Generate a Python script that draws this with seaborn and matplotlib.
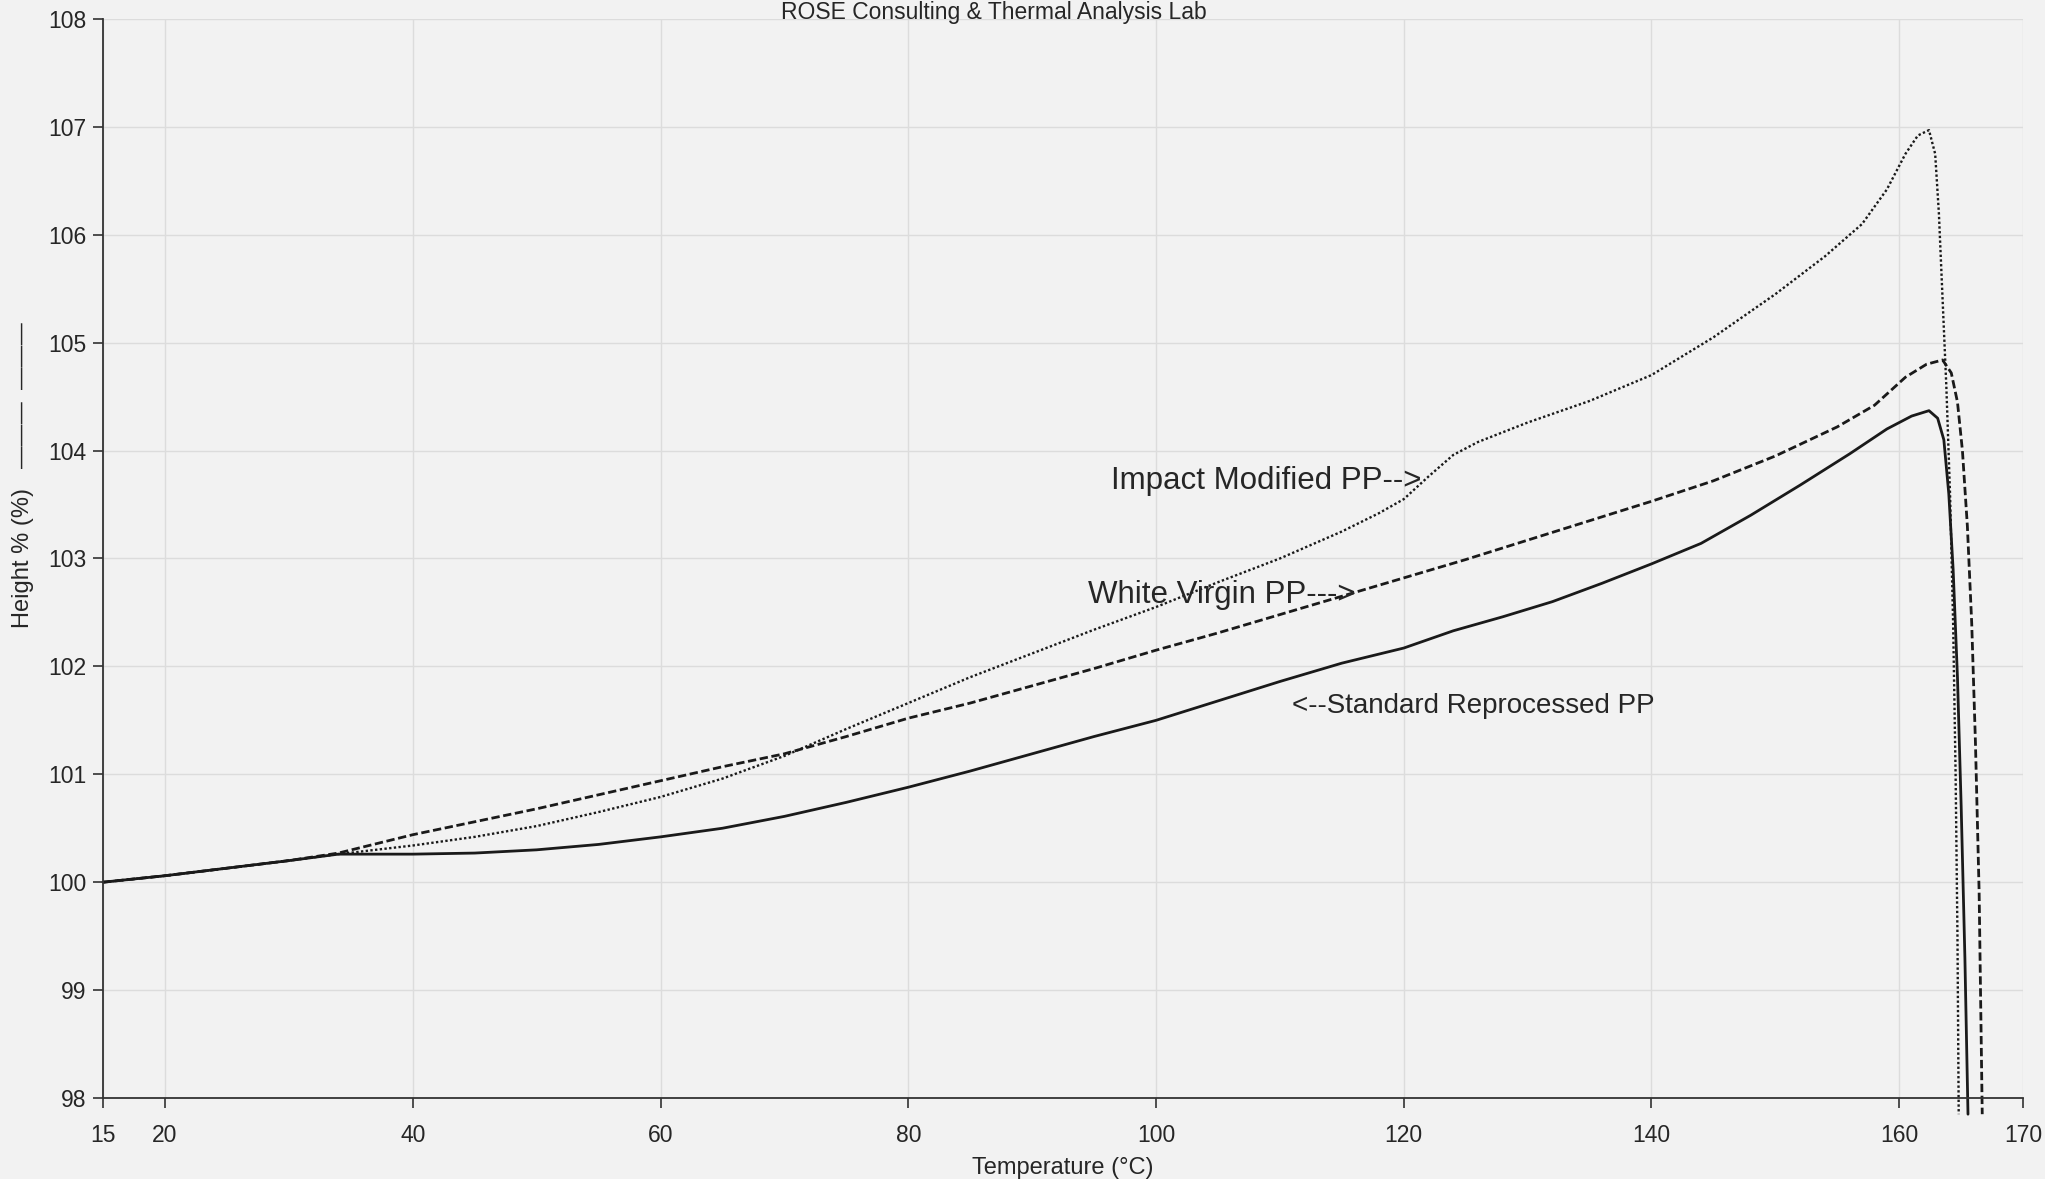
import seaborn as sns
import matplotlib.pyplot as plt
import pandas as pd

# temperature (deg C) / height % readings
temp_std = [15, 20, 25, 30, 34, 40, 45, 50, 55, 60, 65, 70, 75, 80, 85, 90, 95, 100,
            105, 110, 115, 120, 124, 128, 132, 136, 140, 144, 148, 152, 156, 159, 161,
            162.4, 163.1, 163.6, 164.0, 164.35, 164.7, 165.0, 165.3, 165.55]
height_std = [100, 100.06, 100.13, 100.2, 100.26, 100.26, 100.27, 100.3, 100.35, 100.42,
              100.5, 100.61, 100.74, 100.88, 101.03, 101.19, 101.35, 101.5, 101.68, 101.86,
              102.03, 102.17, 102.33, 102.46, 102.6, 102.77, 102.95, 103.14, 103.4, 103.68,
              103.97, 104.2, 104.32, 104.37, 104.3, 104.1, 103.6, 102.9, 101.9, 100.7, 99.3,
              97.85]

temp_white = [15, 20, 25, 30, 34, 40, 45, 50, 55, 60, 65, 70, 75, 80, 85, 90, 95, 100,
              105, 110, 115, 120, 125, 130, 135, 140, 145, 150, 155, 158, 160.5, 162.2,
              163.5, 164.2, 164.7, 165.1, 165.5, 165.85, 166.15, 166.45, 166.7]
height_white = [100, 100.06, 100.13, 100.2, 100.27, 100.44, 100.56, 100.68, 100.81, 100.94,
                101.07, 101.19, 101.35, 101.52, 101.66, 101.82, 101.98, 102.15, 102.31,
                102.48, 102.65, 102.82, 102.99, 103.17, 103.35, 103.53, 103.72, 103.95,
                104.22, 104.42, 104.68, 104.8, 104.84, 104.72, 104.45, 104.0, 103.3, 102.4,
                101.3, 99.9, 97.85]

temp_impact = [15, 20, 25, 30, 34, 40, 45, 50, 55, 60, 65, 70, 75, 80, 85, 90, 95, 100,
               105, 110, 115, 118, 120, 122, 124, 126, 128, 130, 135, 140, 145, 150, 154,
               157, 159, 160.5, 161.5, 162.4, 162.9, 163.2, 163.5, 163.8, 164.1, 164.35,
               164.55, 164.7, 164.8]
height_impact = [100, 100.06, 100.13, 100.2, 100.26, 100.34, 100.42, 100.52, 100.65, 100.79,
                 100.96, 101.17, 101.42, 101.66, 101.9, 102.12, 102.34, 102.55, 102.78,
                 103.0, 103.25, 103.42, 103.55, 103.76, 103.96, 104.08, 104.17, 104.26,
                 104.46, 104.7, 105.05, 105.45, 105.8, 106.1, 106.42, 106.75, 106.92, 106.97,
                 106.75, 106.2, 105.4, 104.6, 103.6, 102.4, 101.0, 99.5, 97.85]

x_ticks = [15, 20, 40, 60, 80, 100, 120, 140, 160, 170]
y_ticks = list(range(98, 109))

sns.set_style("whitegrid", {"axes.facecolor": "#f2f2f2", "grid.color": "#dcdcdc",
                            "axes.edgecolor": "#333333"})
plt.rcParams["font.family"] = ["Liberation Sans", "DejaVu Sans"]

fig = plt.figure(figsize=(20.45, 11.79), dpi=100, facecolor="#f2f2f2")
ax = fig.add_axes([0.0504, 0.0687, 0.9389, 0.9152])

std = pd.DataFrame({"t": temp_std, "h": height_std})
white = pd.DataFrame({"t": temp_white, "h": height_white})
impact = pd.DataFrame({"t": temp_impact, "h": height_impact})

sns.lineplot(data=std, x="t", y="h", ax=ax, color="#1a1a1a", lw=2.0,
             sort=False, estimator=None)
sns.lineplot(data=white, x="t", y="h", ax=ax, color="#1a1a1a", lw=2.0,
             linestyle=(0, (3, 1.3)), sort=False, estimator=None)
sns.lineplot(data=impact, x="t", y="h", ax=ax, color="#1a1a1a", lw=1.7,
             linestyle=(0, (1, 1)), sort=False, estimator=None)
for line in ax.lines:
    line.set_clip_on(False)

ax.set_xlim(15, 170)
ax.set_ylim(98, 108)
ax.set_xticks(x_ticks)
ax.set_xticklabels([str(t) for t in x_ticks])
ax.set_yticks(y_ticks)
ax.grid(True, lw=1.0)
for side in ["top", "right"]:
    ax.spines[side].set_visible(False)
for side in ["left", "bottom"]:
    ax.spines[side].set_linewidth(1.3)
ax.tick_params(axis="both", which="both", direction="out", length=7, width=1.2,
               color="#333333", labelsize=16.5, left=True, bottom=True)
ax.tick_params(axis="x", pad=12)
ax.tick_params(axis="y", pad=5)

ax.set_xlabel("Temperature (°C)", fontsize=17, labelpad=7)
ax.set_ylabel("Height % (%)", fontsize=17)
ax.yaxis.set_label_coords(-0.036, 0.5)
fig.text(0.0112, 0.665, "———  ———", rotation=90, fontsize=16,
         ha="center", va="center")

ax.text(96.4, 103.72, "Impact Modified PP-->", fontsize=22.5, va="center", ha="left")
ax.text(94.5, 102.66, "White Virgin PP--->", fontsize=22.5, va="center", ha="left")
ax.text(111.0, 101.63, "<--Standard Reprocessed PP", fontsize=20, va="center", ha="left")

fig.text(0.486, 0.9995, "ROSE Consulting & Thermal Analysis Lab", fontsize=16.5,
         ha="center", va="top")

fig.savefig("out.png", dpi=100, facecolor=fig.get_facecolor())
